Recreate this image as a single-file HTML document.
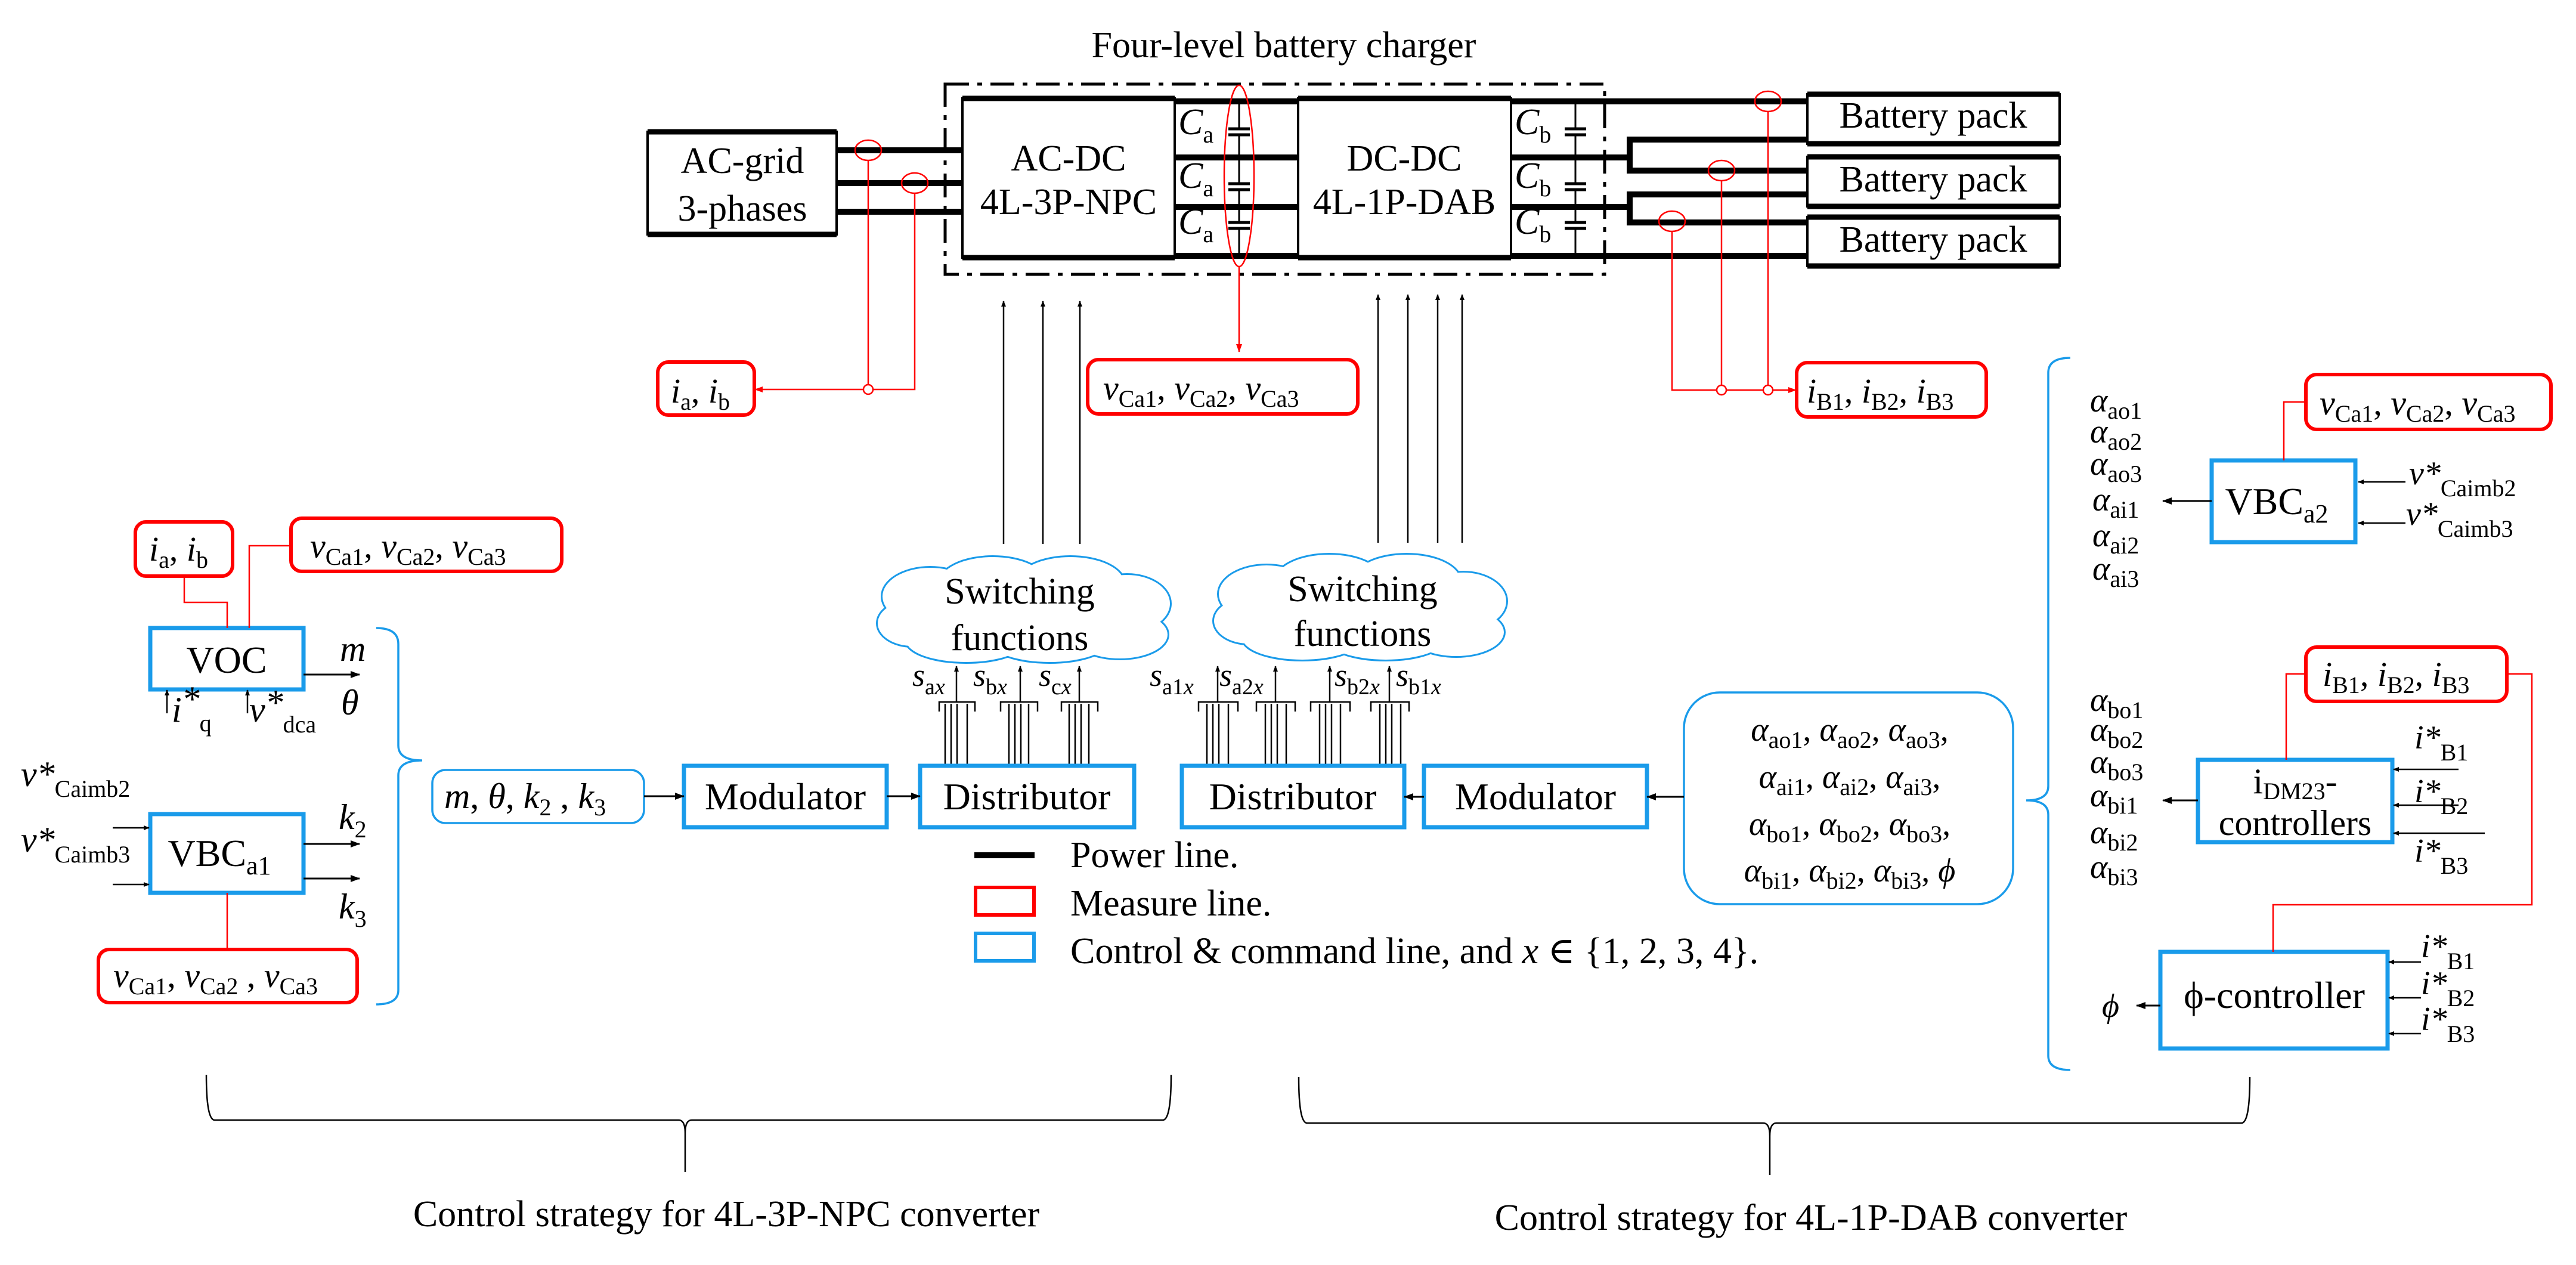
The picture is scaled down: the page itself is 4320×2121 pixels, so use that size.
<!DOCTYPE html>
<html><head><meta charset="utf-8"><style>
html,body{margin:0;padding:0;background:#fff;}
svg{display:block;font-family:"Liberation Serif","DejaVu Serif",serif;}
svg text, svg tspan{font-family:"Liberation Serif","DejaVu Serif",serif !important;fill:#000;}
.i{font-style:italic;}
.s{font-size:40px;font-style:normal;}
</style></head><body>
<svg width="4320" height="2121" viewBox="0 0 4320 2121" xmlns="http://www.w3.org/2000/svg" font-family="Liberation Serif, serif">
<defs>
<marker id="ak" markerWidth="10" markerHeight="10" refX="9" refY="5" orient="auto" markerUnits="userSpaceOnUse" viewBox="0 0 10 10"><path d="M0,1 L10,5 L0,9 z" fill="#000"/></marker>
<marker id="ar" markerWidth="14" markerHeight="14" refX="13" refY="7" orient="auto" markerUnits="userSpaceOnUse" viewBox="0 0 14 14"><path d="M0,2 L14,7 L0,12 z" fill="#f00"/></marker>
<marker id="akb" markerWidth="16" markerHeight="16" refX="15" refY="8" orient="auto" markerUnits="userSpaceOnUse" viewBox="0 0 16 16"><path d="M0,2 L16,8 L0,14 z" fill="#000"/></marker>
</defs>
<rect width="4320" height="2121" fill="#fff"/>

<text x="2153" y="96" font-size="62" text-anchor="middle">Four-level battery charger</text>

<rect x="1585" y="141" width="1106" height="319" fill="none" stroke="#000" stroke-width="5" stroke-dasharray="40,14,8,14"/>

<g stroke="#000" stroke-width="10" fill="none">
<line x1="1403" y1="252" x2="1614" y2="252"/>
<line x1="1403" y1="307" x2="1614" y2="307"/>
<line x1="1403" y1="355" x2="1614" y2="355"/>
<line x1="1970" y1="170" x2="2177" y2="170"/>
<line x1="1970" y1="264" x2="2177" y2="264"/>
<line x1="1970" y1="347" x2="2177" y2="347"/>
<line x1="1970" y1="429" x2="2177" y2="429"/>
<line x1="2534" y1="170" x2="3031" y2="170"/>
<line x1="2534" y1="264" x2="2733" y2="264"/>
<line x1="2534" y1="347" x2="2733" y2="347"/>
<line x1="2534" y1="429" x2="3031" y2="429"/>
<polyline points="3031,234 2733,234 2733,286 3031,286"/>
<polyline points="3031,326 2733,326 2733,373 3031,373"/>
</g>

<g fill="#fff" stroke="#000" stroke-width="4">
<rect x="1086" y="221" width="317" height="172"/>
<rect x="1614" y="165" width="356" height="267"/>
<rect x="2177" y="165" width="357" height="267"/>
<rect x="3031" y="158" width="423" height="83"/>
<rect x="3031" y="263" width="423" height="83"/>
<rect x="3031" y="364" width="423" height="82"/>
</g>
<g stroke="#000" stroke-width="9">
<line x1="1086" y1="221" x2="1403" y2="221"/><line x1="1086" y1="393" x2="1403" y2="393"/>
<line x1="1614" y1="165" x2="1970" y2="165"/><line x1="1614" y1="432" x2="1970" y2="432"/>
<line x1="2177" y1="165" x2="2534" y2="165"/><line x1="2177" y1="432" x2="2534" y2="432"/>
<line x1="3031" y1="158" x2="3454" y2="158"/><line x1="3031" y1="241" x2="3454" y2="241"/>
<line x1="3031" y1="263" x2="3454" y2="263"/><line x1="3031" y1="346" x2="3454" y2="346"/>
<line x1="3031" y1="364" x2="3454" y2="364"/><line x1="3031" y1="446" x2="3454" y2="446"/>
</g>
<g font-size="62" text-anchor="middle">
<text x="1245" y="290">AC-grid</text>
<text x="1245" y="370">3-phases</text>
<text x="1792" y="286">AC-DC</text>
<text x="1792" y="359">4L-3P-NPC</text>
<text x="2355" y="286">DC-DC</text>
<text x="2355" y="359">4L-1P-DAB</text>
<text x="3242" y="214">Battery pack</text>
<text x="3242" y="321">Battery pack</text>
<text x="3242" y="422">Battery pack</text>
</g>

<g stroke="#000" stroke-width="3" fill="none">
<line x1="2078" y1="170" x2="2078" y2="429"/>
<line x1="2642" y1="170" x2="2642" y2="429"/>
</g>
<g fill="#fff" stroke="none">
<rect x="2070" y="217" width="16" height="8"/><rect x="2070" y="309" width="16" height="8"/><rect x="2070" y="374" width="16" height="8"/>
<rect x="2634" y="217" width="16" height="8"/><rect x="2634" y="309" width="16" height="8"/><rect x="2634" y="374" width="16" height="8"/>
</g>
<g stroke="#000" stroke-width="5">
<line x1="2060" y1="216" x2="2096" y2="216"/><line x1="2060" y1="226" x2="2096" y2="226"/>
<line x1="2060" y1="308" x2="2096" y2="308"/><line x1="2060" y1="318" x2="2096" y2="318"/>
<line x1="2060" y1="373" x2="2096" y2="373"/><line x1="2060" y1="383" x2="2096" y2="383"/>
<line x1="2624" y1="216" x2="2660" y2="216"/><line x1="2624" y1="226" x2="2660" y2="226"/>
<line x1="2624" y1="308" x2="2660" y2="308"/><line x1="2624" y1="318" x2="2660" y2="318"/>
<line x1="2624" y1="373" x2="2660" y2="373"/><line x1="2624" y1="383" x2="2660" y2="383"/>
</g>
<g font-size="62">
<text x="1976" y="225" class="i">C<tspan class="s" dy="14">a</tspan></text>
<text x="1976" y="315" class="i">C<tspan class="s" dy="14">a</tspan></text>
<text x="1976" y="392" class="i">C<tspan class="s" dy="14">a</tspan></text>
<text x="2540" y="225" class="i">C<tspan class="s" dy="14">b</tspan></text>
<text x="2540" y="315" class="i">C<tspan class="s" dy="14">b</tspan></text>
<text x="2540" y="392" class="i">C<tspan class="s" dy="14">b</tspan></text>
</g>

<g stroke="#f00" stroke-width="2.5" fill="none">
<ellipse cx="1456" cy="252" rx="22" ry="17"/>
<ellipse cx="1534" cy="307" rx="22" ry="17"/>
<line x1="1456" y1="269" x2="1456" y2="645"/>
<polyline points="1534,324 1534,653 1266,653" marker-end="url(#ar)"/>
<circle cx="1456" cy="653" r="8" fill="#fff"/>
<ellipse cx="2078" cy="295" rx="25" ry="152"/>
<line x1="2078" y1="447" x2="2078" y2="590" marker-end="url(#ar)"/>
<ellipse cx="2965" cy="170" rx="22" ry="17"/>
<ellipse cx="2887" cy="286" rx="22" ry="17"/>
<ellipse cx="2804" cy="371" rx="22" ry="17"/>
<line x1="2965" y1="187" x2="2965" y2="645"/>
<line x1="2887" y1="303" x2="2887" y2="645"/>
<polyline points="2804,388 2804,654 3012,654" marker-end="url(#ar)"/>
<circle cx="2887" cy="654" r="8" fill="#fff"/>
<circle cx="2965" cy="654" r="8" fill="#fff"/>
</g>

<g fill="#fff" stroke="#f00" stroke-width="6">
<rect x="1103" y="607" width="162" height="89" rx="18"/>
<rect x="1824" y="603" width="453" height="91" rx="18"/>
<rect x="3013" y="608" width="318" height="91" rx="18"/>
<rect x="227" y="875" width="163" height="91" rx="18"/>
<rect x="488" y="869" width="454" height="89" rx="18"/>
<rect x="165" y="1592" width="434" height="89" rx="18"/>
<rect x="3867" y="628" width="411" height="92" rx="18"/>
<rect x="3867" y="1085" width="337" height="91" rx="18"/>
</g>
<g font-size="58">
<text x="1125" y="675"><tspan class="i">i</tspan><tspan class="s" dy="12">a</tspan><tspan dy="-12">, </tspan><tspan class="i">i</tspan><tspan class="s" dy="12">b</tspan></text>
<text x="1850" y="670"><tspan class="i">v</tspan><tspan class="s" dy="12">Ca1</tspan><tspan dy="-12">, </tspan><tspan class="i">v</tspan><tspan class="s" dy="12">Ca2</tspan><tspan dy="-12">, </tspan><tspan class="i">v</tspan><tspan class="s" dy="12">Ca3</tspan></text>
<text x="3030" y="675"><tspan class="i">i</tspan><tspan class="s" dy="12">B1</tspan><tspan dy="-12">, </tspan><tspan class="i">i</tspan><tspan class="s" dy="12">B2</tspan><tspan dy="-12">, </tspan><tspan class="i">i</tspan><tspan class="s" dy="12">B3</tspan></text>
<text x="250" y="940"><tspan class="i">i</tspan><tspan class="s" dy="12">a</tspan><tspan dy="-12">, </tspan><tspan class="i">i</tspan><tspan class="s" dy="12">b</tspan></text>
<text x="520" y="935"><tspan class="i">v</tspan><tspan class="s" dy="12">Ca1</tspan><tspan dy="-12">, </tspan><tspan class="i">v</tspan><tspan class="s" dy="12">Ca2</tspan><tspan dy="-12">, </tspan><tspan class="i">v</tspan><tspan class="s" dy="12">Ca3</tspan></text>
<text x="190" y="1655"><tspan class="i">v</tspan><tspan class="s" dy="12">Ca1</tspan><tspan dy="-12">, </tspan><tspan class="i">v</tspan><tspan class="s" dy="12">Ca2</tspan><tspan dy="-12"> , </tspan><tspan class="i">v</tspan><tspan class="s" dy="12">Ca3</tspan></text>
<text x="3890" y="695"><tspan class="i">v</tspan><tspan class="s" dy="12">Ca1</tspan><tspan dy="-12">, </tspan><tspan class="i">v</tspan><tspan class="s" dy="12">Ca2</tspan><tspan dy="-12">, </tspan><tspan class="i">v</tspan><tspan class="s" dy="12">Ca3</tspan></text>
<text x="3895" y="1150"><tspan class="i">i</tspan><tspan class="s" dy="12">B1</tspan><tspan dy="-12">, </tspan><tspan class="i">i</tspan><tspan class="s" dy="12">B2</tspan><tspan dy="-12">, </tspan><tspan class="i">i</tspan><tspan class="s" dy="12">B3</tspan></text>
</g>

<g stroke="#000" stroke-width="2.5" fill="none" marker-end="url(#ak)">
<line x1="1683" y1="912" x2="1683" y2="505"/>
<line x1="1749" y1="912" x2="1749" y2="505"/>
<line x1="1811" y1="912" x2="1811" y2="505"/>
<line x1="2311" y1="910" x2="2311" y2="494"/>
<line x1="2361" y1="910" x2="2361" y2="494"/>
<line x1="2411" y1="910" x2="2411" y2="494"/>
<line x1="2452" y1="910" x2="2452" y2="494"/>
</g>

<g id="cl">
<g fill="none" stroke="#1a9bea" stroke-width="6">
<ellipse cx="1560" cy="1000" rx="80" ry="48"/>
<ellipse cx="1665" cy="978" rx="90" ry="44"/>
<ellipse cx="1795" cy="978" rx="90" ry="44"/>
<ellipse cx="1890" cy="1012" rx="72" ry="48"/>
<ellipse cx="1878" cy="1064" rx="80" ry="40"/>
<ellipse cx="1760" cy="1074" rx="100" ry="36"/>
<ellipse cx="1620" cy="1074" rx="100" ry="36"/>
<ellipse cx="1530" cy="1045" rx="58" ry="38"/>
</g>
<g fill="#fff">
<ellipse cx="1560" cy="1000" rx="80" ry="48"/>
<ellipse cx="1665" cy="978" rx="90" ry="44"/>
<ellipse cx="1795" cy="978" rx="90" ry="44"/>
<ellipse cx="1890" cy="1012" rx="72" ry="48"/>
<ellipse cx="1878" cy="1064" rx="80" ry="40"/>
<ellipse cx="1760" cy="1074" rx="100" ry="36"/>
<ellipse cx="1620" cy="1074" rx="100" ry="36"/>
<ellipse cx="1530" cy="1045" rx="58" ry="38"/>
<rect x="1540" y="990" width="360" height="80"/>
</g>
</g>
<use href="#cl" transform="translate(564,-4)"/>
<g font-size="62" text-anchor="middle">
<text x="1710" y="1012">Switching</text>
<text x="1710" y="1090">functions</text>
<text x="2285" y="1008">Switching</text>
<text x="2285" y="1083">functions</text>
</g>

<g stroke="#000" stroke-width="2.5" fill="none">
<path d="M1575,1193 V1177 H1635 V1193 M1585,1283 V1180 M1595,1283 V1180 M1605,1283 V1180 M1622,1283 V1180"/>
<path d="M1678,1193 V1177 H1740 V1193 M1692,1283 V1180 M1702,1283 V1180 M1712,1283 V1180 M1725,1283 V1180"/>
<path d="M1780,1193 V1177 H1841 V1193 M1793,1283 V1180 M1803,1283 V1180 M1813,1283 V1180 M1826,1283 V1180"/>
<path d="M2010,1193 V1177 H2076 V1193 M2024,1283 V1180 M2034,1283 V1180 M2044,1283 V1180 M2060,1283 V1180"/>
<path d="M2107,1193 V1177 H2172 V1193 M2122,1283 V1180 M2132,1283 V1180 M2142,1283 V1180 M2157,1283 V1180"/>
<path d="M2198,1193 V1177 H2264 V1193 M2213,1283 V1180 M2223,1283 V1180 M2233,1283 V1180 M2248,1283 V1180"/>
<path d="M2299,1193 V1177 H2363 V1193 M2314,1283 V1180 M2324,1283 V1180 M2334,1283 V1180 M2349,1283 V1180"/>
</g>
<g stroke="#000" stroke-width="2.5" marker-end="url(#ak)">
<line x1="1604" y1="1177" x2="1604" y2="1117"/>
<line x1="1711" y1="1177" x2="1711" y2="1117"/>
<line x1="1810" y1="1177" x2="1810" y2="1117"/>
<line x1="2042" y1="1177" x2="2042" y2="1117"/>
<line x1="2139" y1="1177" x2="2139" y2="1117"/>
<line x1="2230" y1="1177" x2="2230" y2="1117"/>
<line x1="2330" y1="1177" x2="2330" y2="1117"/>
</g>
<g font-size="54">
<text x="1530" y="1150" class="i">s<tspan style="font-size:38px;font-style:normal" dy="14">a<tspan class="i">x</tspan></tspan></text>
<text x="1632" y="1150" class="i">s<tspan style="font-size:38px;font-style:normal" dy="14">b<tspan class="i">x</tspan></tspan></text>
<text x="1742" y="1150" class="i">s<tspan style="font-size:38px;font-style:normal" dy="14">c<tspan class="i">x</tspan></tspan></text>
<text x="1928" y="1150" class="i">s<tspan style="font-size:38px;font-style:normal" dy="14">a1<tspan class="i">x</tspan></tspan></text>
<text x="2045" y="1150" class="i">s<tspan style="font-size:38px;font-style:normal" dy="14">a2<tspan class="i">x</tspan></tspan></text>
<text x="2238" y="1150" class="i">s<tspan style="font-size:38px;font-style:normal" dy="14">b2<tspan class="i">x</tspan></tspan></text>
<text x="2341" y="1150" class="i">s<tspan style="font-size:38px;font-style:normal" dy="14">b1<tspan class="i">x</tspan></tspan></text>
</g>

<g fill="#fff" stroke="#1a9bea" stroke-width="7">
<rect x="252" y="1053" width="257" height="103"/>
<rect x="252" y="1365" width="257" height="132"/>
<rect x="1147" y="1284" width="340" height="103"/>
<rect x="1543" y="1284" width="359" height="103"/>
<rect x="1982" y="1284" width="373" height="103"/>
<rect x="2388" y="1284" width="374" height="103"/>
<rect x="3709" y="772" width="241" height="137"/>
<rect x="3686" y="1274" width="326" height="138"/>
<rect x="3623" y="1596" width="381" height="162"/>
</g>
<g fill="#fff" stroke="#1a9bea" stroke-width="3.5">
<rect x="725" y="1291" width="355" height="89" rx="22"/>
<rect x="2824" y="1161" width="552" height="355" rx="60"/>
</g>
<g font-size="64" text-anchor="middle">
<text x="380" y="1128">VOC</text>
<text x="368" y="1452">VBC<tspan class="s" dy="14" style="font-size:44px">a1</tspan></text>
<text x="1317" y="1357">Modulator</text>
<text x="1722" y="1357">Distributor</text>
<text x="2168" y="1357">Distributor</text>
<text x="2575" y="1357">Modulator</text>
<text x="3818" y="862">VBC<tspan class="s" dy="14" style="font-size:44px">a2</tspan></text>
<text x="3814" y="1690">ϕ-controller</text>
</g>
<text x="3849" y="1330" font-size="60" text-anchor="middle">i<tspan style="font-size:40px" dy="10">DM23</tspan><tspan dy="-10">-</tspan></text>
<text x="3849" y="1400" font-size="60" text-anchor="middle">controllers</text>

<g stroke="#f00" stroke-width="2.5" fill="none">
<polyline points="309,966 309,1010 381,1010 381,1053"/>
<polyline points="488,915 418,915 418,1053"/>
<line x1="381" y1="1497" x2="381" y2="1592"/>
<polyline points="3867,674 3830,674 3830,772"/>
<polyline points="3867,1130 3834,1130 3834,1274"/>
<polyline points="4204,1130 4246,1130 4246,1517 3812,1517 3812,1596"/>
</g>

<g stroke="#000" stroke-width="3" fill="none" marker-end="url(#akb)">
<line x1="509" y1="1131" x2="603" y2="1131"/>
<line x1="509" y1="1415" x2="603" y2="1415"/>
<line x1="509" y1="1473" x2="603" y2="1473"/>
<line x1="1080" y1="1335" x2="1147" y2="1335"/>
<line x1="1487" y1="1335" x2="1543" y2="1335"/>
<line x1="2388" y1="1336" x2="2355" y2="1336"/>
<line x1="2824" y1="1336" x2="2762" y2="1336"/>
<line x1="3709" y1="840" x2="3627" y2="840"/>
<line x1="3686" y1="1342" x2="3627" y2="1342"/>
<line x1="3623" y1="1686" x2="3583" y2="1686"/>
</g>
<g stroke="#000" stroke-width="2.5" fill="none" marker-end="url(#ak)">
<line x1="280" y1="1196" x2="280" y2="1157"/>
<line x1="415" y1="1196" x2="415" y2="1157"/>
<line x1="189" y1="1388" x2="250" y2="1388"/>
<line x1="189" y1="1483" x2="250" y2="1483"/>
<line x1="4034" y1="808" x2="3955" y2="808"/>
<line x1="4034" y1="877" x2="3955" y2="877"/>
<line x1="4123" y1="1290" x2="4014" y2="1290"/>
<line x1="4123" y1="1350" x2="4014" y2="1350"/>
<line x1="4167" y1="1397" x2="4014" y2="1397"/>
<line x1="4060" y1="1613" x2="4006" y2="1613"/>
<line x1="4060" y1="1673" x2="4006" y2="1673"/>
<line x1="4060" y1="1733" x2="4006" y2="1733"/>
</g>

<g font-size="60">
<text x="570" y="1108" class="i">m</text>
<text x="572" y="1198" class="i">θ</text>
<text x="568" y="1390" class="i">k<tspan class="s" dy="14">2</tspan></text>
<text x="568" y="1540" class="i">k<tspan class="s" dy="14">3</tspan></text>
<text x="288" y="1210" class="i">i<tspan dy="-18">*</tspan><tspan class="s" dy="34">q</tspan></text>
<text x="418" y="1210" class="i">v<tspan dy="-12">*</tspan><tspan class="s" dy="30">dca</tspan></text>
<text x="35" y="1318" class="i">v<tspan>*</tspan><tspan class="s" dy="18">Caimb2</tspan></text>
<text x="35" y="1428" class="i">v<tspan>*</tspan><tspan class="s" dy="18">Caimb3</tspan></text>
<text x="745" y="1355"><tspan class="i">m</tspan>, <tspan class="i">θ</tspan>, <tspan class="i">k</tspan><tspan class="s" dy="12">2</tspan><tspan dy="-12"> , </tspan><tspan class="i">k</tspan><tspan class="s" dy="12">3</tspan></text>
</g>

<path d="M631,1053 Q668,1053 668,1080 V1250 Q668,1275 708,1275 Q668,1275 668,1300 V1660 Q668,1684 631,1684" fill="none" stroke="#1a9bea" stroke-width="3.5"/>
<path d="M3472,600 Q3435,600 3435,625 V1318 Q3435,1342 3398,1342 Q3435,1342 3435,1366 V1770 Q3435,1794 3472,1794" fill="none" stroke="#1a9bea" stroke-width="3.5"/>

<line x1="1634" y1="1434" x2="1735" y2="1434" stroke="#000" stroke-width="10"/>
<rect x="1636" y="1488" width="98" height="46" fill="none" stroke="#f00" stroke-width="6"/>
<rect x="1636" y="1565" width="98" height="46" fill="none" stroke="#1a9bea" stroke-width="6"/>
<g font-size="62">
<text x="1795" y="1454">Power line.</text>
<text x="1795" y="1535">Measure line.</text>
<text x="1795" y="1615">Control &amp; command line, and <tspan class="i">x</tspan> ∈ {1, 2, 3, 4}.</text>
</g>

<g font-size="56" text-anchor="middle">
<text x="3102" y="1242"><tspan class="i">α</tspan><tspan class="s" dy="12">ao1</tspan><tspan dy="-12">, </tspan><tspan class="i">α</tspan><tspan class="s" dy="12">ao2</tspan><tspan dy="-12">, </tspan><tspan class="i">α</tspan><tspan class="s" dy="12">ao3</tspan><tspan dy="-12">,</tspan></text>
<text x="3102" y="1321"><tspan class="i">α</tspan><tspan class="s" dy="12">ai1</tspan><tspan dy="-12">, </tspan><tspan class="i">α</tspan><tspan class="s" dy="12">ai2</tspan><tspan dy="-12">, </tspan><tspan class="i">α</tspan><tspan class="s" dy="12">ai3</tspan><tspan dy="-12">,</tspan></text>
<text x="3102" y="1400"><tspan class="i">α</tspan><tspan class="s" dy="12">bo1</tspan><tspan dy="-12">, </tspan><tspan class="i">α</tspan><tspan class="s" dy="12">bo2</tspan><tspan dy="-12">, </tspan><tspan class="i">α</tspan><tspan class="s" dy="12">bo3</tspan><tspan dy="-12">,</tspan></text>
<text x="3102" y="1478"><tspan class="i">α</tspan><tspan class="s" dy="12">bi1</tspan><tspan dy="-12">, </tspan><tspan class="i">α</tspan><tspan class="s" dy="12">bi2</tspan><tspan dy="-12">, </tspan><tspan class="i">α</tspan><tspan class="s" dy="12">bi3</tspan><tspan dy="-12">, </tspan><tspan class="i">ϕ</tspan></text>
</g>

<g font-size="56">
<text x="3505" y="690" class="i">α<tspan class="s" dy="12">ao1</tspan></text>
<text x="3505" y="742" class="i">α<tspan class="s" dy="12">ao2</tspan></text>
<text x="3505" y="796" class="i">α<tspan class="s" dy="12">ao3</tspan></text>
<text x="3509" y="856" class="i">α<tspan class="s" dy="12">ai1</tspan></text>
<text x="3509" y="916" class="i">α<tspan class="s" dy="12">ai2</tspan></text>
<text x="3509" y="972" class="i">α<tspan class="s" dy="12">ai3</tspan></text>
<text x="3505" y="1192" class="i">α<tspan class="s" dy="12">bo1</tspan></text>
<text x="3505" y="1242" class="i">α<tspan class="s" dy="12">bo2</tspan></text>
<text x="3505" y="1296" class="i">α<tspan class="s" dy="12">bo3</tspan></text>
<text x="3505" y="1352" class="i">α<tspan class="s" dy="12">bi1</tspan></text>
<text x="3505" y="1414" class="i">α<tspan class="s" dy="12">bi2</tspan></text>
<text x="3505" y="1472" class="i">α<tspan class="s" dy="12">bi3</tspan></text>
<text x="3525" y="1705" class="i">ϕ</text>
</g>

<g font-size="56">
<text x="4040" y="812" class="i">v*<tspan class="s" dy="20">Caimb2</tspan></text>
<text x="4035" y="880" class="i">v*<tspan class="s" dy="20">Caimb3</tspan></text>
<text x="4049" y="1255" class="i">i*<tspan class="s" dy="20">B1</tspan></text>
<text x="4049" y="1345" class="i">i*<tspan class="s" dy="20">B2</tspan></text>
<text x="4049" y="1445" class="i">i*<tspan class="s" dy="20">B3</tspan></text>
<text x="4060" y="1605" class="i">i*<tspan class="s" dy="20">B1</tspan></text>
<text x="4060" y="1667" class="i">i*<tspan class="s" dy="20">B2</tspan></text>
<text x="4060" y="1727" class="i">i*<tspan class="s" dy="20">B3</tspan></text>
</g>

<g fill="none" stroke="#000" stroke-width="2.5">
<path d="M346,1802 Q346,1878 360,1878 H1138 Q1149,1878 1149,1900 V1965 M1149,1900 Q1149,1878 1160,1878 H1950 Q1964,1878 1964,1802"/>
<path d="M2178,1806 Q2178,1883 2192,1883 H2957 Q2968,1883 2968,1905 V1970 M2968,1905 Q2968,1883 2979,1883 H3759 Q3773,1883 3773,1806"/>
</g>
<g font-size="62" text-anchor="middle">
<text x="1218" y="2056">Control strategy for 4L-3P-NPC converter</text>
<text x="3037" y="2062">Control strategy for 4L-1P-DAB converter</text>
</g>
</svg>
</body></html>
